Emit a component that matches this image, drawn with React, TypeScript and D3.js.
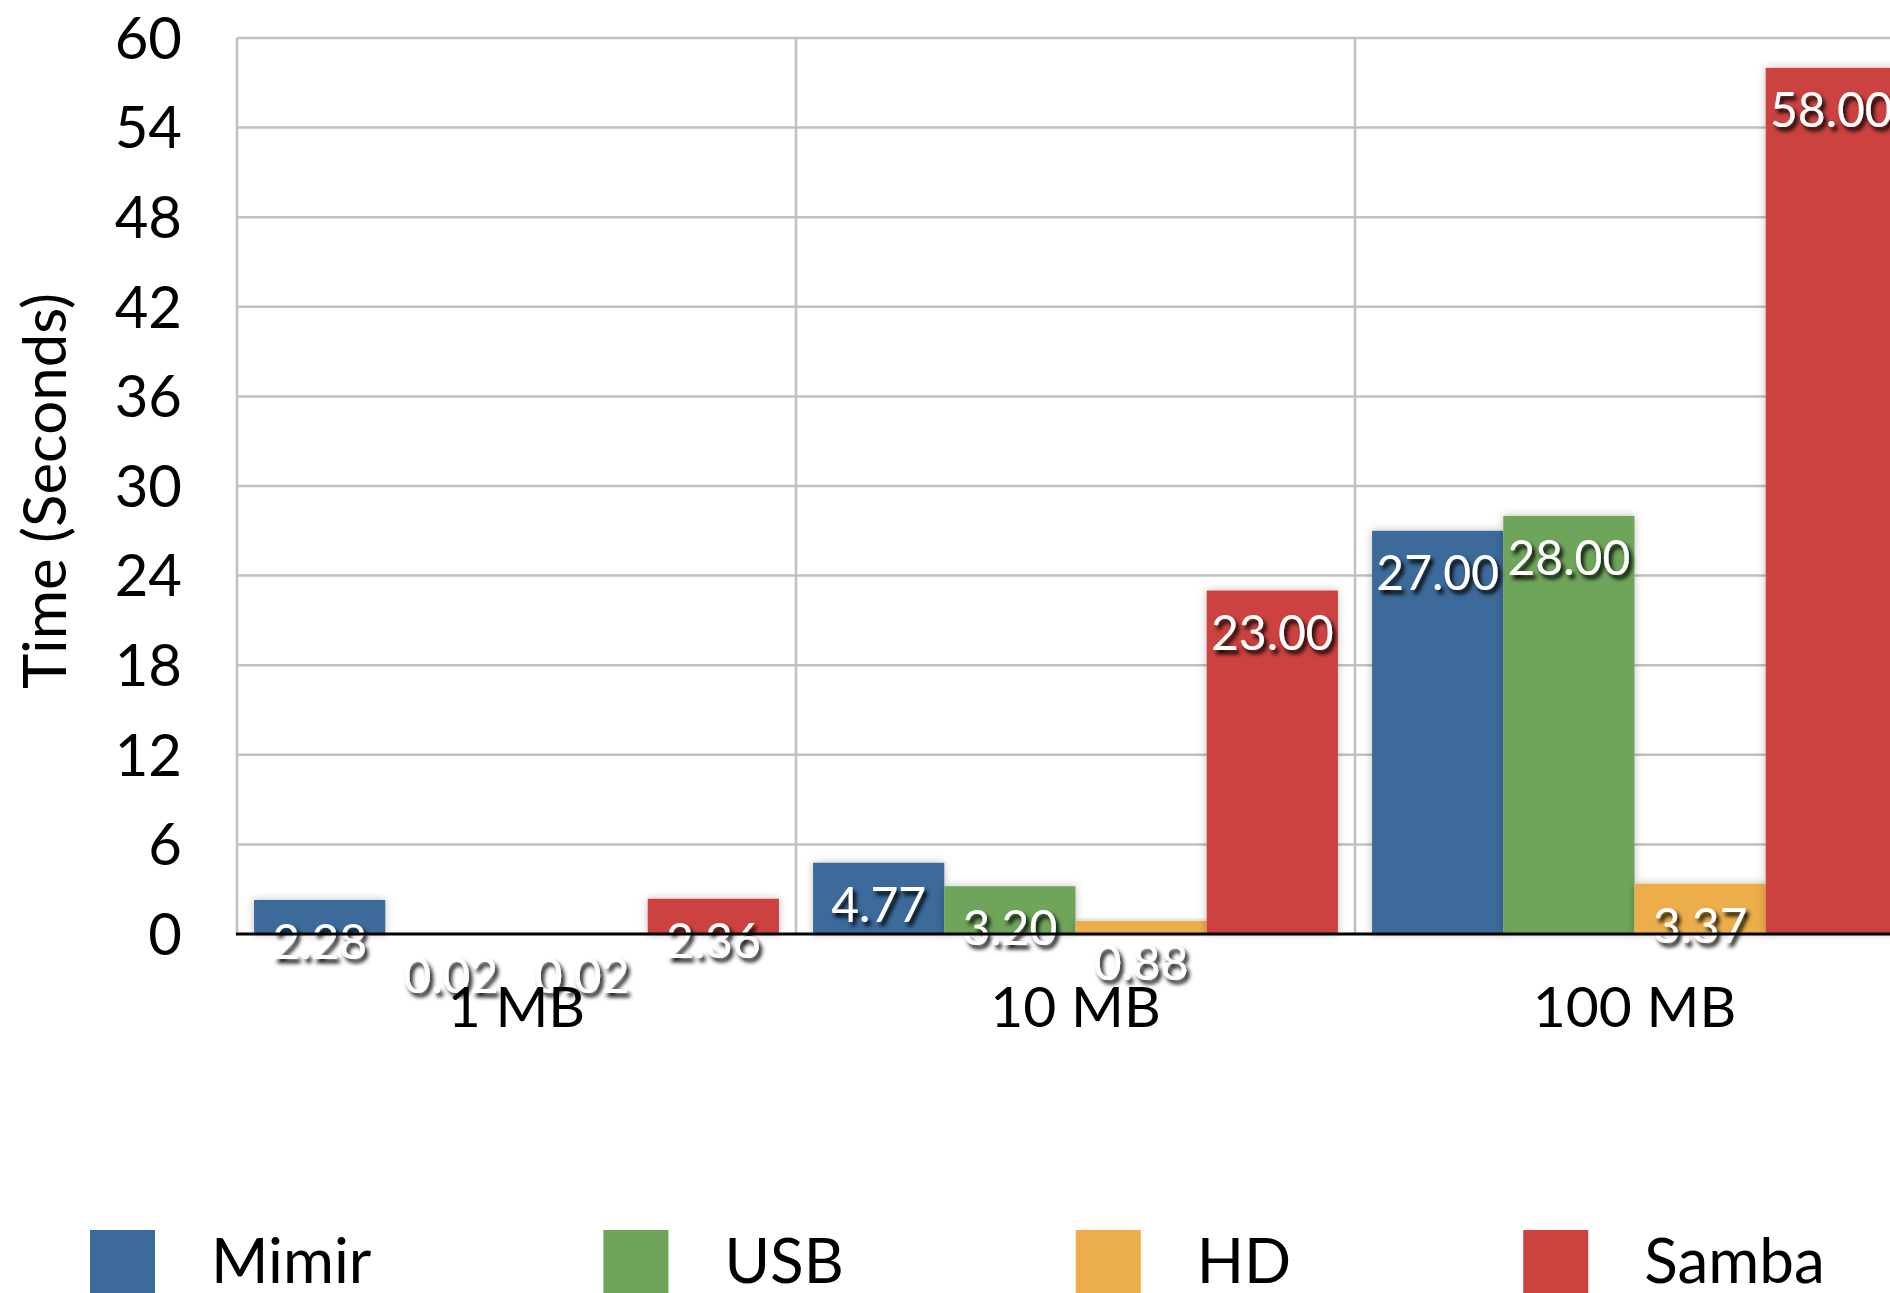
import React, { useEffect, useRef } from 'react';
import * as d3 from 'd3';

// Chart data
const categories = ['1 MB', '10 MB', '100 MB'];
const seriesNames = ['Mimir', 'USB', 'HD', 'Samba'];
const mimirTimes = [2.28, 4.77, 27.0];
const usbTimes = [0.02, 3.2, 28.0];
const hdTimes = [0.02, 0.88, 3.37];
const sambaTimes = [2.36, 23.0, 58.0];
const yTicks = [0, 6, 12, 18, 24, 30, 36, 42, 48, 54, 60];

const colors = ['#3b6a9b', '#6ea55a', '#ecae4b', '#cb423f'];

const width = 1890;
const height = 1293;
const font = 'Lato, "Open Sans", sans-serif';

const App = () => {
  const svgRef = useRef<SVGSVGElement>(null);

  useEffect(() => {
    const svg = d3.select(svgRef.current);
    svg.selectAll('*').remove();

    const seriesValues = [mimirTimes, usbTimes, hdTimes, sambaTimes];
    const rows = categories.map((cat, ci) => ({
      cat,
      values: seriesNames.map((name, si) => ({ name, si, value: seriesValues[si][ci] })),
    }));

    // filters for the bar glow and the label shadow
    const defs = svg.append('defs');
    defs
      .append('filter')
      .attr('id', 'barShadow')
      .attr('x', '-20%')
      .attr('y', '-20%')
      .attr('width', '140%')
      .attr('height', '140%')
      .append('feDropShadow')
      .attr('dx', 0)
      .attr('dy', 0)
      .attr('stdDeviation', 4)
      .attr('flood-color', '#000')
      .attr('flood-opacity', 0.25);
    defs
      .append('filter')
      .attr('id', 'textShadow')
      .attr('x', '-20%')
      .attr('y', '-30%')
      .attr('width', '150%')
      .attr('height', '170%')
      .append('feDropShadow')
      .attr('dx', 3)
      .attr('dy', 4)
      .attr('stdDeviation', 2)
      .attr('flood-color', '#000')
      .attr('flood-opacity', 1);

    const x0 = 237;
    const catWidth = 559;
    const x = d3
      .scaleBand()
      .domain(categories)
      .range([x0, x0 + catWidth * categories.length])
      .padding(0);
    const xInner = d3
      .scaleBand()
      .domain(seriesNames)
      .range([0, x.bandwidth()])
      .paddingInner(0)
      .paddingOuter(0.13);
    const y = d3.scaleLinear().domain([0, 60]).range([934, 38]);

    // grid
    const grid = svg.append('g').attr('stroke', '#c0c0c0').attr('stroke-width', 2.5);
    grid
      .selectAll('line.h')
      .data(yTicks.filter((t) => t > 0))
      .enter()
      .append('line')
      .attr('x1', x0)
      .attr('x2', width)
      .attr('y1', (d) => y(d))
      .attr('y2', (d) => y(d));
    grid
      .selectAll('line.v')
      .data(categories)
      .enter()
      .append('line')
      .attr('x1', (d) => x(d)!)
      .attr('x2', (d) => x(d)!)
      .attr('y1', y(60))
      .attr('y2', y(0));

    // y tick labels
    svg
      .append('g')
      .selectAll('text')
      .data(yTicks)
      .enter()
      .append('text')
      .attr('x', 182)
      .attr('y', (d) => y(d))
      .attr('dy', '0.36em')
      .attr('text-anchor', 'end')
      .style('font-family', font)
      .style('font-size', '58px')
      .style('fill', '#000')
      .text((d) => d);

    // y title
    svg
      .append('text')
      .attr('transform', 'translate(66, 491) rotate(-90)')
      .attr('text-anchor', 'middle')
      .style('font-family', font)
      .style('font-size', '60px')
      .text('Time (Seconds)');

    // bars
    const groups = svg
      .append('g')
      .selectAll('g')
      .data(rows)
      .enter()
      .append('g')
      .attr('transform', (d) => `translate(${x(d.cat)},0)`);

    groups
      .selectAll('rect')
      .data((d) => d.values)
      .enter()
      .append('rect')
      .attr('x', (d) => xInner(d.name)!)
      .attr('y', (d) => y(d.value))
      .attr('width', xInner.bandwidth())
      .attr('height', (d) => y(0) - y(d.value))
      .attr('filter', 'url(#barShadow)')
      .style('fill', (d) => colors[d.si]);

    // zero axis line
    svg
      .append('line')
      .attr('x1', x0 - 1)
      .attr('x2', width)
      .attr('y1', y(0))
      .attr('y2', y(0))
      .attr('stroke', '#000')
      .attr('stroke-width', 3);

    // category labels
    svg
      .append('g')
      .selectAll('text')
      .data(categories)
      .enter()
      .append('text')
      .attr('x', (d) => x(d)! + x.bandwidth() / 2)
      .attr('y', 1027)
      .attr('text-anchor', 'middle')
      .style('font-family', font)
      .style('font-size', '57px')
      .text((d) => d);

    // value labels, placed just under the top of each bar
    groups
      .selectAll('text')
      .data((d) => d.values)
      .enter()
      .append('text')
      .attr('x', (d) => xInner(d.name)! + xInner.bandwidth() / 2)
      .attr('y', (d) => y(d.value) + 59)
      .attr('text-anchor', 'middle')
      .attr('filter', 'url(#textShadow)')
      .style('font-family', font)
      .style('font-size', '48px')
      .style('fill', '#fff')
      .text((d) => d.value.toFixed(2));

    // legend, laid out by text width
    const legend = svg.append('g');
    let lx = 90;
    seriesNames.forEach((name, i) => {
      legend
        .append('rect')
        .attr('x', lx)
        .attr('y', 1230)
        .attr('width', 65)
        .attr('height', 65)
        .style('fill', colors[i]);
      const t = legend
        .append('text')
        .attr('x', lx + 121)
        .attr('y', 1283)
        .style('font-family', font)
        .style('font-size', '62px')
        .text(name);
      const w = (t.node() as SVGTextElement).getComputedTextLength();
      lx = lx + 121 + w + 232;
    });
  }, []);

  return (
    <svg
      ref={svgRef}
      width={width}
      height={height}
      style={{ position: 'absolute', left: 0, top: 0, background: '#fff', overflow: 'hidden' }}
    ></svg>
  );
};

export default App;
